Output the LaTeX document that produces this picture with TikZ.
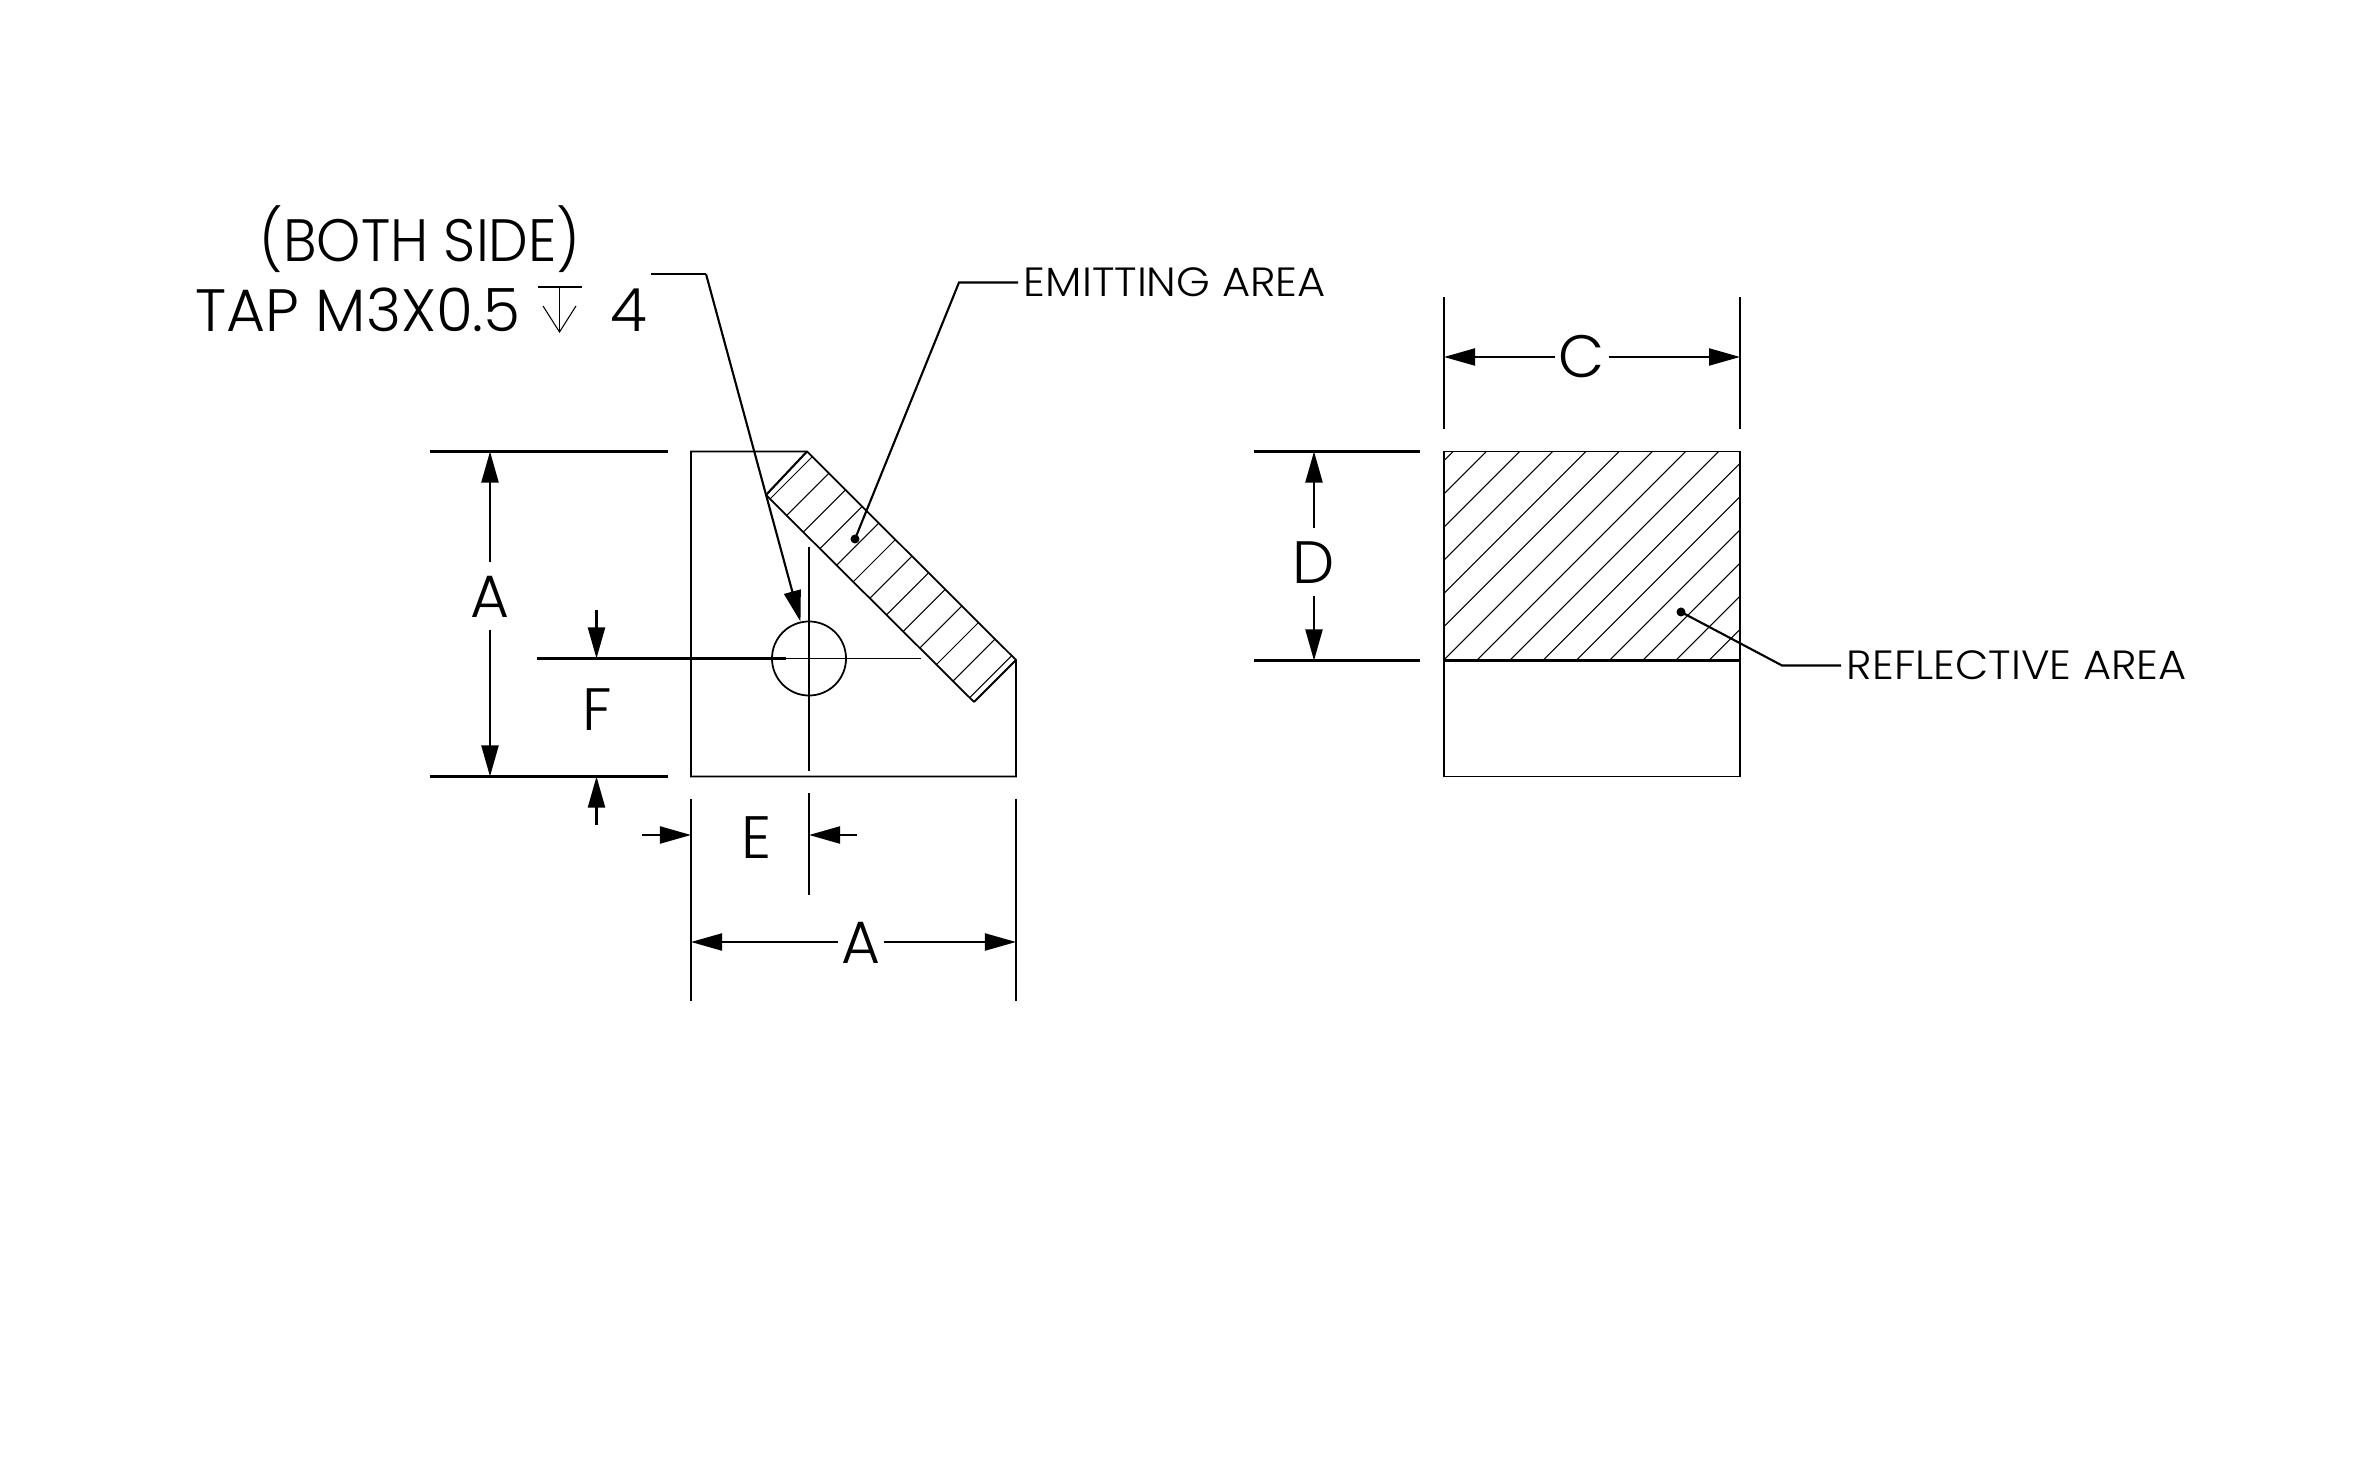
\documentclass[tikz,border=0pt]{standalone}
\usepackage{fontspec}
\setmainfont{Poppins Light}
\usetikzlibrary{arrows.meta}
\tikzset{
outline/.style={draw=black, line width=0.5pt},
dimline/.style={draw=black, line width=0.6pt},
thinline/.style={draw=black, line width=0.3pt},
dimarrow/.style={dimline, -{Triangle[length=0.31cm, width=0.17cm]}},
dimlabel/.style={font=\fontsize{17}{17}\selectfont, text height=0.42cm, text depth=0pt, inner xsep=1pt, inner ysep=1.3mm, outer sep=0pt},
notelabel/.style={font=\fontsize{17}{17}\selectfont, inner sep=0pt, anchor=base west},
arealabel/.style={font=\fontsize{11.6}{12}\selectfont\addfontfeature{FakeStretch=1.06}, inner xsep=1.5pt, inner ysep=0pt, anchor=west},
leaderdot/.style={circle, fill=black, inner sep=0pt, minimum size=0.09cm}
}

\begin{document}
\begin{tikzpicture}[x=0.01cm, y=-0.01cm]
\useasboundingbox (0,0) rectangle (2363,1477);
%\draw [help lines, step=100] (0,0) grid (2363,1477);

% left view
\draw[outline] (691,451.5) -- (807,451.5) -- (1016,660) -- (1016,776.5) -- (691,776.5) -- cycle;
\draw[outline] (766,495) -- (974,702);
\draw[dimline] (807,451.5) -- (766,495);
\draw[dimline] (1016,660) -- (974,702);
\begin{scope}
\clip (807,451.5) -- (766,495) -- (974,702) -- (1016,660) -- cycle;
\foreach \k in {0,...,12}
     \draw[thinline] ({1269+33.2*\k-300},300) -- ({1269+33.2*\k-800},800);
\end{scope}

% hole
\node[circle, draw=black, line width=0.5pt, minimum size=0.74cm, inner sep=0pt] (hole) at (809,658.5) {};
\draw[thinline] (809,547) -- (809,771);
\draw[thinline] (786,658.5) -- (921,658.5);

% right view
\draw[outline] (1444,451.5) rectangle (1740,776.5);
\draw[dimline] (1444,660.5) -- (1740,660.5);
\begin{scope}
\clip (1444,451.5) rectangle (1740,660.5);
\foreach \k in {0,...,14}
     \draw[thinline] ({1904.6+33.2*\k-300},300) -- ({1904.6+33.2*\k-800},800);
\end{scope}

% dimension A, left
\draw[dimline] (430,451.5) -- (668,451.5);
\draw[dimline] (430,776.5) -- (668,776.5);
\coordinate (leftTop) at (490,451.5);
\coordinate (leftBot) at (490,776.5);
\node[dimlabel] (dimAleft) at (490,596) {A};
\draw[dimarrow] (dimAleft) -- (leftTop);
\draw[dimarrow] (dimAleft) -- (leftBot);

% dimension F
\draw[dimline] (537,658.5) -- (786,658.5);
\node[dimlabel] (dimF) at (597,709) {F};
\coordinate (fTopA) at (596.5,610);
\coordinate (fTopB) at (596.5,658.5);
\coordinate (fBotA) at (596.5,825);
\coordinate (fBotB) at (596.5,776.5);
\draw[dimarrow] (fTopA) -- (fTopB);
\draw[dimarrow] (fBotA) -- (fBotB);

% dimension E
\draw[dimline] (809,793) -- (809,895);
\node[dimlabel] (dimE) at (757,837) {E};
\coordinate (eLeftA) at (642,835);
\coordinate (eLeftB) at (691,835);
\coordinate (eRightA) at (857,835);
\coordinate (eRightB) at (809,835);
\draw[dimarrow] (eLeftA) -- (eLeftB);
\draw[dimarrow] (eRightA) -- (eRightB);

% dimension A, bottom
\draw[dimline] (691,799) -- (691,1001);
\draw[dimline] (1016,799) -- (1016,1001);
\coordinate (botLeft) at (691,942);
\coordinate (botRight) at (1016,942);
\node[dimlabel] (dimAbot) at (861,942) {A};
\draw[dimarrow] (dimAbot) -- (botLeft);
\draw[dimarrow] (dimAbot) -- (botRight);

% dimension C
\draw[dimline] (1444,297) -- (1444,429);
\draw[dimline] (1740,297) -- (1740,429);
\coordinate (cLeft) at (1444,357);
\coordinate (cRight) at (1740,357);
\node[dimlabel] (dimC) at (1582,357) {C};
\draw[dimarrow] (dimC) -- (cLeft);
\draw[dimarrow] (dimC) -- (cRight);

% dimension D
\draw[dimline] (1254,451.5) -- (1420,451.5);
\draw[dimline] (1254,660.5) -- (1420,660.5);
\coordinate (dTop) at (1314,451.5);
\coordinate (dBot) at (1314,660.5);
\node[dimlabel] (dimD) at (1314,562) {D};
\draw[dimarrow] (dimD) -- (dTop);
\draw[dimarrow] (dimD) -- (dBot);

% tap note
\node[notelabel, font=\fontsize{17}{17}\selectfont\addfontfeature{FakeStretch=0.94}] (noteBoth) at (259,262) {(BOTH SIDE)};
\node[notelabel] (noteTap) at (195,332) {TAP M3X0.5};
\node[notelabel] (noteDepth) at (610,332) {4};
\draw[thinline] (538,287) -- (582,287);
\draw[thinline] (559.5,287) -- (559.5,332);
\draw[thinline] (543,306) -- (559.5,332) -- (576,306);
\coordinate (tapStart) at (651,274);
\coordinate (tapBend) at (706,274);
\draw[dimline] (tapStart) -- (tapBend);
\draw[dimarrow] (tapBend) -- (hole.103);

% area labels
\node[arealabel] (emitLabel) at (1018,282.5) {EMITTING AREA};
\node[leaderdot] (emitDot) at (855,539) {};
\coordinate (emitBend) at (959,282.5);
\draw[dimline] (emitDot.center) -- (emitBend) -- (emitLabel.west);
\node[arealabel] (reflLabel) at (1841,665.5) {REFLECTIVE AREA};
\node[leaderdot] (reflDot) at (1681,612) {};
\coordinate (reflBend) at (1782,665.5);
\draw[dimline] (reflDot.center) -- (reflBend) -- (reflLabel.west);

\end{tikzpicture}
\end{document}
